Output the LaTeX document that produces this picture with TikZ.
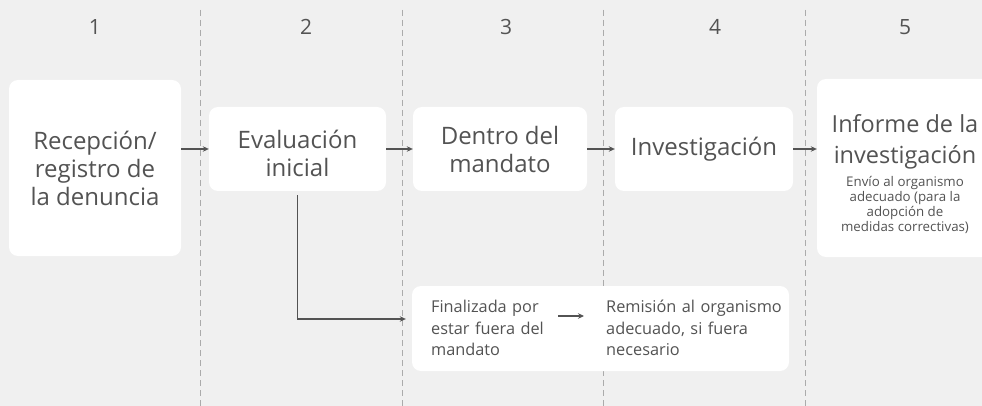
\documentclass[tikz,border=0pt]{standalone}
\usepackage{fontspec}
\setmainfont{Open Sans}
\usetikzlibrary{arrows.meta}
\definecolor{bg}{HTML}{F0F0F0}
\definecolor{txt}{HTML}{535353}
\definecolor{sepc}{HTML}{ABABAB}
\begin{document}
\begin{tikzpicture}[x=1pt,y=-1pt,
  box/.style={fill=white, rounded corners=9pt, draw=none, inner sep=0pt},
  lbl/.style={text=txt, align=center, inner sep=0pt, font=\fontsize{24}{28}\selectfont},
  small/.style={text=txt, align=center, inner sep=0pt, font=\fontsize{13.3}{15}\selectfont},
  mid/.style={text=txt, align=left, inner sep=0pt, font=\fontsize{16.3}{21.5}\selectfont},
  num/.style={text=txt, inner sep=0pt, font=\fontsize{21}{24}\selectfont},
  arr/.style={draw=txt, line width=1.1pt, -{Stealth[length=6pt,width=5.5pt]}},
  sepline/.style={draw=sepc, line width=0.9pt, dash pattern=on 6pt off 4pt}]
\clip (0,0) rectangle (982,406);
\fill[bg] (0,0) rectangle (982,406);
\foreach \x in {200.5,402,603.5,805} \draw[sepline] (\x,10) -- (\x,406);
% column numbers
\node[num] (n1) at (95,27) {1};
\node[num] (n2) at (306,27) {2};
\node[num] (n3) at (506,27) {3};
\node[num] (n4) at (715,27) {4};
\node[num] (n5) at (905,27) {5};
% boxes
\node[box, minimum width=172pt, minimum height=176pt] (b1) at (95,168) {};
\node[lbl] (t1) at (95,168) {Recepción/\\registro de\\la denuncia};
\node[box, minimum width=177pt, minimum height=84pt] (b2) at (297.5,149) {};
\node[lbl] (t2) at (297.5,153) {Evaluación\\inicial};
\node[box, minimum width=174pt, minimum height=84pt] (b3) at (500,149) {};
\node[lbl] (t3) at (500,150) {Dentro del\\mandato};
\node[box, minimum width=178pt, minimum height=84pt] (b4) at (704,149) {};
\node[lbl] (t4) at (704,149) {Investigación};
\node[box, minimum width=178pt, minimum height=178pt] (b5) at (906,168) {};
\node[lbl, font=\fontsize{23.5}{31}\selectfont] (t5) at (905,142) {Informe de la\\investigación};
\node[small] (s5) at (905,205) {Envío al organismo\\adecuado (para la\\adopción de\\medidas correctivas)};
% bottom box
\node[box, minimum width=377pt, minimum height=85pt] (bot) at (600.5,328.5) {};
\node[mid, anchor=west, text width=125pt] (lt) at (431,328) {Finalizada por\\estar fuera del\\mandato};
\node[mid, anchor=west, text width=180pt] (rt) at (606,328) {Remisión al organismo\\adecuado, si fuera\\necesario};
% connectors
\draw[arr] (b1.east |- b2.west) -- (b2.west);
\draw[arr] (b2.east) -- (b3.west);
\draw[arr] (b3.east) -- (b4.west);
\draw[arr] (b4.east) -- (b5.west |- b4.east);
\draw[arr, shorten <=4pt, shorten >=6pt] (b2.south) |- ([yshift=9.5pt]bot.west);
\draw[arr, shorten <=2pt, shorten >=22pt] ([yshift=12pt]lt.east) -- ([yshift=12pt]rt.west);
\end{tikzpicture}
\end{document}
